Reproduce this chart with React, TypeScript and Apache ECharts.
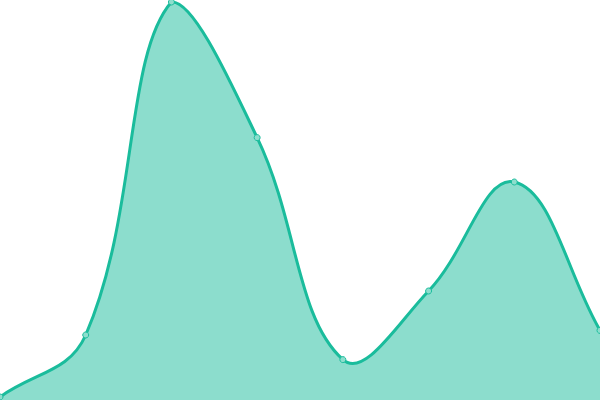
import React, { useEffect, useRef } from "react";
import * as echarts from "echarts";

const categories = ["A", "B", "C", "D", "E", "F", "G", "H"];
const values = [0.75, 16.25, 99.5, 65.6, 10.1, 27.25, 54.5, 17.4];
const yMin = 0;
const yMax = 100;
const tension = 0.4;

function buildPaths(pts: number[][], area: { x: number; y: number; width: number; height: number }) {
  const n = pts.length;
  const cpPrev: number[][] = [];
  const cpNext: number[][] = [];
  const clamp = (p: number[]) => [
    Math.min(Math.max(p[0], area.x), area.x + area.width),
    Math.min(Math.max(p[1], area.y), area.y + area.height),
  ];
  for (let i = 0; i < n; i++) {
    const cur = pts[i];
    const prev = pts[i - 1] || cur;
    const next = pts[i + 1] || cur;
    const d01 = Math.hypot(cur[0] - prev[0], cur[1] - prev[1]);
    const d12 = Math.hypot(next[0] - cur[0], next[1] - cur[1]);
    let s01 = d01 / (d01 + d12);
    let s12 = d12 / (d01 + d12);
    if (!isFinite(s01)) s01 = 0;
    if (!isFinite(s12)) s12 = 0;
    const fa = tension * s01;
    const fb = tension * s12;
    const vx = next[0] - prev[0];
    const vy = next[1] - prev[1];
    cpPrev.push(clamp([cur[0] - fa * vx, cur[1] - fa * vy]));
    cpNext.push(clamp([cur[0] + fb * vx, cur[1] + fb * vy]));
  }
  let d = `M${pts[0][0]},${pts[0][1]}`;
  for (let i = 0; i < n - 1; i++) {
    d += `C${cpNext[i][0]},${cpNext[i][1]} ${cpPrev[i + 1][0]},${cpPrev[i + 1][1]} ${pts[i + 1][0]},${pts[i + 1][1]}`;
  }
  const bottom = area.y + area.height;
  const areaD = d + `L${pts[n - 1][0]},${bottom}L${pts[0][0]},${bottom}Z`;
  return { line: d, area: areaD };
}

export default function App() {
  const ref = useRef<HTMLDivElement>(null);
  useEffect(() => {
    if (!ref.current) return;
    const chart = echarts.init(ref.current, null, { renderer: "svg" });
    chart.setOption({
      animation: false,
      grid: { left: 0, right: 0, top: 0, bottom: 0 },
      xAxis: {
        type: "category",
        data: categories,
        boundaryGap: false,
        show: false,
      },
      yAxis: { type: "value", min: yMin, max: yMax, show: false },
      series: [
        {
          type: "custom",
          data: values.map((v, i) => [i, v]),
          encode: { x: 0, y: 1 },
          silent: true,
          renderItem: (params: any, api: any) => {
            if (params.dataIndex !== 0) return null;
            const pts = values.map((v, i) => api.coord([i, v]));
            const cs = params.coordSys;
            const p = buildPaths(pts, { x: cs.x, y: cs.y, width: cs.width, height: cs.height });
            return {
              type: "group",
              children: [
                {
                  type: "path",
                  shape: { pathData: p.area },
                  style: { fill: "rgba(26,188,156,0.5)", stroke: "none" },
                },
                {
                  type: "path",
                  shape: { pathData: p.line },
                  style: { fill: "none", stroke: "#1abc9c", lineWidth: 3 },
                },
              ],
            };
          },
        },
        {
          type: "line",
          data: values,
          symbol: "circle",
          symbolSize: 6,
          clip: false,
          lineStyle: { width: 0, opacity: 0 },
          itemStyle: { color: "#8ddecd", borderColor: "#1abc9c", borderWidth: 1 },
          z: 5,
        },
      ],
    });
    return () => chart.dispose();
  }, []);
  return (
    <div
      ref={ref}
      style={{ position: "fixed", left: 0, top: 0, width: 600, height: 400 }}
    />
  );
}
